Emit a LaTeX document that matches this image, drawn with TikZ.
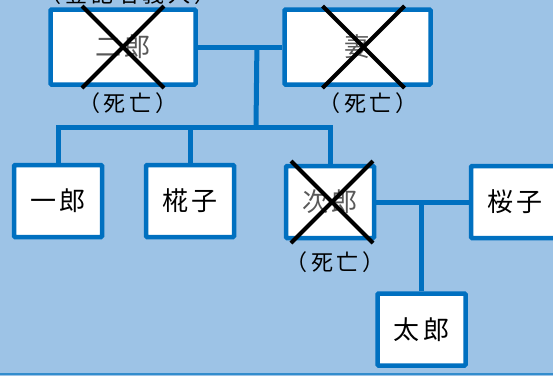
\documentclass[tikz,border=0pt]{standalone}
\usepackage{fontspec}
\setmainfont{Noto Sans CJK JP}
\usetikzlibrary{calc}
\definecolor{sheet}{HTML}{9DC3E6}
\definecolor{famblue}{HTML}{0070C0}

\begin{document}
\begin{tikzpicture}[x=1pt,y=-1pt]
  \tikzstyle{person}=[rectangle,draw=famblue,line width=4.5pt,fill=white,rounded corners=1pt,
                      inner sep=0pt,minimum width=88pt,minimum height=72pt,
                      font=\fontsize{26}{26}\selectfont\addfontfeature{LetterSpace=12}]
  \tikzstyle{wide person}=[person,minimum width=145pt,minimum height=75pt]
  \tikzstyle{dead}=[text=black!65]
  \tikzstyle{bond}=[draw=famblue,line width=5pt]
  \tikzstyle{cross}=[draw=black,line width=4pt]
  \tikzstyle{note}=[font=\fontsize{22}{22}\selectfont\addfontfeature{LetterSpace=18},inner sep=0pt]
  \fill[sheet] (0,0) rectangle (553,376);
  \useasboundingbox (0,0) rectangle (553,376);

  \node [wide person,dead] (jiro2) at (123,47) {二郎};
  \node [wide person,dead,minimum width=146pt] (tsuma) at (357.5,47) {妻};
  \node [person] (ichiro) at (58,201) {一郎};
  \node [person] (momiji) at (190,201) {椛子};
  \node [person,dead] (jiro) at (330,202) {次郎};
  \node [person] (sakura) at (515,202) {桜子};
  \node [person] (taro) at (421.5,329.5) {太郎};

  \node [note] (owner) at (128,-6) {（登記名義人）};
  \node [note] (death1) at (128,103) {（死亡）};
  \node [note] (death2) at (368,103) {（死亡）};
  \node [note] (death3) at (335,262) {（死亡）};

  \coordinate (parents) at ($(jiro2.east)!0.7!(tsuma.west)$);
  \coordinate (kids) at (256,127);
  \draw [bond] (jiro2.east) -- (tsuma.west);
  \draw [bond] (parents) -- (kids);
  \draw [bond] (ichiro.north) -- (ichiro.north |- kids) -- (jiro.north |- kids) -- (jiro.north);
  \draw [bond] (momiji.north) -- (momiji.north |- kids);
  \draw [bond] (jiro.east) -- (sakura.west);
  \draw [bond] (taro.north) -- (taro.north |- jiro.east);

  \foreach \who/\dx in {jiro2/0,tsuma/6,jiro/2}{
    \draw [cross] ($(\who)+(\dx-41,-41)$) -- ($(\who)+(\dx+41,41)$);
    \draw [cross] ($(\who)+(\dx+41,-41)$) -- ($(\who)+(\dx-41,41)$);
  }

  \draw [famblue!80,line width=1.5pt] (0,374) -- (553,374);
\end{tikzpicture}
\end{document}
